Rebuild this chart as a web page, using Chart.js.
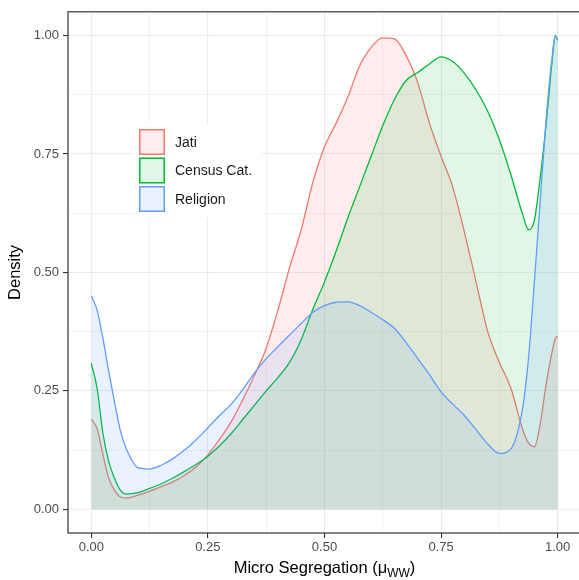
<!DOCTYPE html>
<html>
<head>
<meta charset="utf-8">
<script src="https://cdn.jsdelivr.net/npm/chart.js@4/dist/chart.umd.min.js"></script>
<style>
  html, body { margin: 0; padding: 0; background: #fff; overflow: hidden; }
  #wrap { position: relative; width: 600px; height: 580px; }
</style>
</head>
<body>
<div id="wrap"><canvas id="densityChart"></canvas></div>
<script>
// data
const labels = ['Jati', 'Census Cat.', 'Religion'];
const xs = [0, 0.0125, 0.025, 0.0375, 0.05, 0.0625, 0.075, 0.1, 0.125, 0.15, 0.175, 0.2, 0.225, 0.25, 0.275, 0.3,
  0.325, 0.35, 0.375, 0.4, 0.425, 0.45, 0.475, 0.5, 0.525, 0.55, 0.575, 0.6, 0.625, 0.65, 0.675, 0.7, 0.725, 0.75,
  0.775, 0.8, 0.825, 0.85, 0.875, 0.9, 0.925, 0.9375, 0.95, 0.9625, 0.975, 0.9875, 0.995, 1];
const jati = [0.19, 0.17, 0.115, 0.065, 0.04, 0.026, 0.024, 0.03, 0.038, 0.048, 0.058, 0.072, 0.09, 0.115, 0.148, 0.185,
  0.232, 0.283, 0.34, 0.42, 0.51, 0.59, 0.69, 0.765, 0.815, 0.87, 0.935, 0.975, 0.995, 0.993, 0.958, 0.9, 0.815, 0.745,
  0.68, 0.585, 0.48, 0.375, 0.31, 0.255, 0.168, 0.14, 0.132, 0.18, 0.262, 0.33, 0.36, 0.365];
const census = [0.308, 0.255, 0.16, 0.1, 0.065, 0.04, 0.032, 0.035, 0.044, 0.054, 0.066, 0.08, 0.095, 0.112, 0.134, 0.16,
  0.19, 0.22, 0.25, 0.278, 0.31, 0.358, 0.422, 0.48, 0.545, 0.615, 0.68, 0.745, 0.81, 0.865, 0.905, 0.922, 0.94, 0.955,
  0.945, 0.92, 0.885, 0.84, 0.78, 0.705, 0.622, 0.59, 0.61, 0.7, 0.81, 0.94, 1.0, 0.99];
const religion = [0.45, 0.42, 0.36, 0.29, 0.225, 0.165, 0.128, 0.088, 0.085, 0.093, 0.107, 0.125, 0.147, 0.172, 0.198, 0.222,
  0.253, 0.288, 0.318, 0.343, 0.368, 0.392, 0.416, 0.43, 0.437, 0.438, 0.43, 0.416, 0.4, 0.382, 0.352, 0.318, 0.284, 0.248,
  0.222, 0.198, 0.168, 0.138, 0.118, 0.128, 0.215, 0.32, 0.48, 0.65, 0.82, 0.95, 1.0, 0.99];
const xTicks = [0, 0.25, 0.5, 0.75, 1];
const yTicks = [0, 0.25, 0.5, 0.75, 1];

const colors = ['#F8766D', '#00BA38', '#619CFF'];
const fills = ['rgba(248,118,109,0.13)', 'rgba(0,186,56,0.12)', 'rgba(97,156,255,0.13)'];
const series = [jati, census, religion];

// major + minor gridline positions
function withMinor(ticks) {
  const out = [];
  ticks.forEach((t, i) => {
    out.push(t);
    if (i < ticks.length - 1) out.push((t + ticks[i + 1]) / 2);
  });
  return out;
}
const isMajor = (v, ticks) => ticks.some(t => Math.abs(t - v) < 1e-6);

const datasets = series.map((vals, i) => ({
  label: labels[i],
  data: xs.map((x, j) => ({ x: x, y: vals[j] })),
  borderColor: colors[i],
  backgroundColor: fills[i],
  borderWidth: 1.3,
  pointRadius: 0,
  fill: 'origin',
  cubicInterpolationMode: 'monotone',
  order: 3 - i // religion drawn on top like ggplot
}));

const tickFont = { family: 'Liberation Sans, Arial, sans-serif', size: 13 };

// panel border, axis titles and legend, ggplot style
const ggExtras = {
  id: 'ggExtras',
  afterDraw(chart) {
    const { ctx, chartArea: a } = chart;
    ctx.save();
    ctx.strokeStyle = '#333333';
    ctx.lineWidth = 1.2;
    ctx.strokeRect(a.left, a.top, a.right - a.left, a.bottom - a.top);

    // y title
    ctx.fillStyle = '#000';
    ctx.font = '16.5px Liberation Sans, Arial, sans-serif';
    ctx.textAlign = 'center';
    ctx.textBaseline = 'middle';
    ctx.save();
    ctx.translate(15, (a.top + a.bottom) / 2);
    ctx.rotate(-Math.PI / 2);
    ctx.fillText('Density', 0, 0);
    ctx.restore();

    // x title with subscript
    const main = 'Micro Segregation (\u03BC';
    const sub = 'WW';
    const close = ')';
    ctx.font = '16.5px Liberation Sans, Arial, sans-serif';
    const wMain = ctx.measureText(main).width;
    const wClose = ctx.measureText(close).width;
    ctx.font = '12px Liberation Sans, Arial, sans-serif';
    const wSub = ctx.measureText(sub).width;
    const total = wMain + wSub + wClose;
    let x0 = (a.left + a.right) / 2 - total / 2;
    const yb = 573;
    ctx.textAlign = 'left';
    ctx.textBaseline = 'alphabetic';
    ctx.font = '16.5px Liberation Sans, Arial, sans-serif';
    ctx.fillText(main, x0, yb);
    ctx.font = '12px Liberation Sans, Arial, sans-serif';
    ctx.fillText(sub, x0 + wMain, yb + 4);
    ctx.font = '16.5px Liberation Sans, Arial, sans-serif';
    ctx.fillText(close, x0 + wMain + wSub, yb);

    // legend
    const lx = 139, ly = 129, box = 26, step = 28.5;
    ctx.fillStyle = '#fff';
    ctx.fillRect(lx - 5, ly - 5, 128, step * 3 + 8);
    ctx.font = '14px Liberation Sans, Arial, sans-serif';
    ctx.textBaseline = 'middle';
    labels.forEach((lab, i) => {
      const y = ly + i * step;
      ctx.fillStyle = fills[i];
      ctx.fillRect(lx, y, box, box);
      ctx.strokeStyle = colors[i];
      ctx.lineWidth = 1.5;
      ctx.strokeRect(lx + 0.75, y + 0.75, box - 1.5, box - 1.5);
      ctx.fillStyle = '#1a1a1a';
      ctx.fillText(lab, lx + box + 10, y + box / 2 + 1);
    });
    ctx.restore();
  }
};

new Chart(document.getElementById('densityChart'), {
  type: 'line',
  data: { datasets: datasets },
  options: {
    responsive: true,
    maintainAspectRatio: false,
    animation: false,
    layout: { padding: { top: 9, right: 19, left: 0, bottom: 0 } },
    plugins: { legend: { display: false }, tooltip: { enabled: false } },
    scales: {
      x: {
        type: 'linear',
        min: -0.05,
        max: 1.05,
        afterBuildTicks: s => { s.ticks = withMinor(xTicks).map(v => ({ value: v })); },
        afterFit: s => { s.height = 47; },
        border: { display: false },
        grid: {
          color: '#ebebeb',
          lineWidth: c => isMajor(c.tick.value, xTicks) ? 1.1 : 0.6,
          tickColor: c => isMajor(c.tick.value, xTicks) ? '#333333' : 'rgba(0,0,0,0)',
          tickLength: 5,
          tickWidth: 1.1
        },
        ticks: {
          autoSkip: false,
          maxRotation: 0,
          padding: 2,
          color: '#4d4d4d',
          font: tickFont,
          callback: v => isMajor(v, xTicks) ? v.toFixed(2) : ''
        }
      },
      y: {
        min: -0.05,
        max: 1.05,
        afterBuildTicks: s => { s.ticks = withMinor(yTicks).map(v => ({ value: v })); },
        afterFit: s => { s.width = 68; },
        border: { display: false },
        grid: {
          color: '#ebebeb',
          lineWidth: c => isMajor(c.tick.value, yTicks) ? 1.1 : 0.6,
          tickColor: c => isMajor(c.tick.value, yTicks) ? '#333333' : 'rgba(0,0,0,0)',
          tickLength: 5,
          tickWidth: 1.1
        },
        ticks: {
          autoSkip: false,
          padding: 4,
          color: '#4d4d4d',
          font: tickFont,
          callback: v => isMajor(v, yTicks) ? v.toFixed(2) : ''
        }
      }
    }
  },
  plugins: [ggExtras]
});
</script>
</body>
</html>
